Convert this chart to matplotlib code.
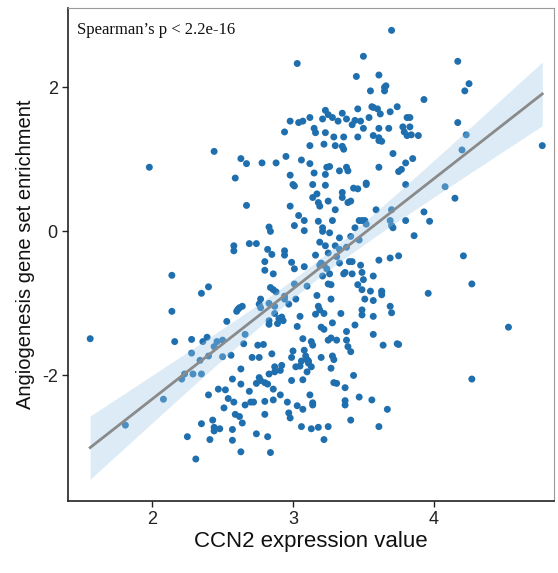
import numpy as np
import matplotlib
matplotlib.use('Agg')
import matplotlib.pyplot as plt

# values (x = CCN2 expression, y = enrichment)
ccn2 = [1.56, 1.81, 1.98, 2.08, 2.14, 2.14, 2.16, 2.21, 2.23, 2.25, 2.28, 2.28, 2.29, 2.31, 2.35, 2.34,
        2.35, 2.36, 2.35, 2.40, 2.40, 2.39, 2.40, 2.41, 2.43, 2.44, 2.44, 2.44, 2.44, 2.46, 2.47, 2.48,
        2.50, 2.51, 2.52, 2.53, 2.50, 2.54, 2.56, 2.57, 2.57, 2.57, 2.58, 2.58, 2.58, 2.59, 2.59, 2.60,
        2.62, 2.62, 2.63, 2.63, 2.63, 2.63, 2.64, 2.64, 2.65, 2.66, 2.66, 2.67, 2.67, 2.69, 2.69, 2.70,
        2.72, 2.71, 2.74, 2.74, 2.74, 2.75, 2.76, 2.76, 2.76, 2.77, 2.77, 2.77, 2.78, 2.79, 2.80, 2.80,
        2.80, 2.80, 2.82, 2.82, 2.82, 2.83, 2.83, 2.83, 2.83, 2.83, 2.84, 2.84, 2.84, 2.85, 2.85, 2.86,
        2.86, 2.86, 2.86, 2.87, 2.87, 2.87, 2.88, 2.88, 2.89, 2.90, 2.91, 2.92, 2.92, 2.93, 2.94, 2.94,
        2.94, 2.94, 2.94, 2.95, 2.96, 2.97, 2.97, 2.98, 2.98, 2.98, 2.98, 2.99, 2.99, 2.99, 3.00, 3.01,
        3.01, 3.01, 3.01, 3.02, 3.02, 3.03, 3.03, 3.03, 3.04, 3.04, 3.05, 3.05, 3.06, 3.06, 3.07, 3.07,
        3.07, 3.07, 3.08, 3.08, 3.08, 3.08, 3.09, 3.10, 3.10, 3.10, 3.11, 3.11, 3.12, 3.12, 3.12, 3.13,
        3.12, 3.13, 3.13, 3.14, 3.14, 3.14, 3.14, 3.14, 3.15, 3.15, 3.16, 3.16, 3.16, 3.17, 3.17, 3.18,
        3.18, 3.18, 3.18, 3.19, 3.19, 3.19, 3.19, 3.20, 3.20, 3.20, 3.21, 3.21, 3.21, 3.21, 3.22, 3.22,
        3.22, 3.22, 3.22, 3.23, 3.23, 3.23, 3.23, 3.23, 3.24, 3.24, 3.25, 3.25, 3.25, 3.25, 3.25, 3.25,
        3.26, 3.26, 3.26, 3.27, 3.27, 3.27, 3.27, 3.28, 3.28, 3.28, 3.28, 3.29, 3.29, 3.29, 3.30, 3.30,
        3.30, 3.31, 3.31, 3.31, 3.32, 3.33, 3.33, 3.33, 3.33, 3.34, 3.35, 3.35, 3.35, 3.35, 3.36, 3.36,
        3.36, 3.37, 3.37, 3.37, 3.37, 3.38, 3.38, 3.38, 3.38, 3.38, 3.39, 3.39, 3.39, 3.40, 3.41, 3.41,
        3.41, 3.41, 3.42, 3.42, 3.42, 3.43, 3.43, 3.44, 3.44, 3.44, 3.45, 3.46, 3.46, 3.46, 3.46, 3.47,
        3.47, 3.47, 3.48, 3.48, 3.49, 3.49, 3.49, 3.49, 3.49, 3.50, 3.50, 3.50, 3.51, 3.51, 3.52, 3.52,
        3.52, 3.54, 3.55, 3.55, 3.56, 3.56, 3.57, 3.57, 3.57, 3.57, 3.57, 3.57, 3.59, 3.60, 3.61, 3.61,
        3.61, 3.61, 3.61, 3.61, 3.61, 3.62, 3.63, 3.63, 3.63, 3.63, 3.64, 3.65, 3.65, 3.66, 3.67, 3.68,
        3.69, 3.69, 3.69, 3.69, 3.70, 3.70, 3.70, 3.70, 3.71, 3.71, 3.74, 3.74, 3.75, 3.75, 3.75, 3.77,
        3.78, 3.79, 3.80, 3.80, 3.80, 3.81, 3.81, 3.83, 3.83, 3.84, 3.85, 3.86, 3.89, 3.93, 3.93, 3.96,
        3.97, 4.08, 4.15, 4.17, 4.17, 4.20, 4.21, 4.22, 4.23, 4.25, 4.27, 4.27, 4.53, 4.77,
        2.61, 2.87, 3.06, 2.80, 3.00, 2.91]
enrichment = [-1.49, -2.69, 0.89, -2.33, -0.61, -1.11, -1.53, -2.05, -1.98, -2.85, -1.50, -1.69, -1.98, -3.16, -1.98, -1.79,
              -0.86, -1.53, -2.67, -0.77, -2.27, -1.47, -1.73, -2.89, -2.62, -2.72, -2.77, 1.11, -1.60, -1.53, -2.19, -2.74,
              -1.74, -2.45, -2.20, -1.25, -1.51, -2.32, -1.72, -2.90, -2.75, -2.05, -2.37, -0.20, -0.27, 0.74, -2.54, -1.11,
              -1.06, -2.57, -2.12, -1.91, 1.01, -3.06, -1.04, -2.66, -1.56, -1.43, -2.41, 0.94, 0.36, -0.17, -2.22, -2.37,
              -2.37, -1.75, -0.17, -2.11, -2.81, -1.58, -1.01, -1.75, -2.03, -2.07, -1.06, -0.94, 0.95, -1.57, -2.54, -0.54,
              -2.10, -0.42, -0.25, -2.12, -2.85, -1.00, 0.06, -1.98, -1.29, -1.24, -3.07, 0.00, -0.78, -0.32, -1.70, -2.34,
              -2.19, -0.81, -0.59, -1.14, -1.04, -1.88, -0.84, 0.95, -1.28, -1.21, -1.93, -1.19, -1.86, -1.24, -0.94, -0.27,
              -0.33, 1.38, -0.90, 1.04, -2.37, -1.01, -2.52, 0.35, -2.59, 1.53, 0.78, -1.75, -0.43, -2.07, 0.65, 0.63,
              0.08, -0.52, -0.73, -0.94, -1.88, -2.42, -1.32, 2.33, 0.22, 1.51, -1.87, -1.18, 0.99, -2.71, -2.06, -1.49,
              -2.47, 1.53, -0.49, -1.65, 0.15, 0.01, -1.73, -1.95, -1.78, -0.76, -1.83, -1.80, 1.19, -2.27, 1.58, -1.88,
              0.94, -1.53, -2.74, -2.41, 0.47, 0.65, -2.38, -1.58, 0.81, 1.43, -1.15, -0.33, 1.37, -0.89, 0.52, 0.40,
              0.14, -2.72, -1.04, -0.47, -0.15, -1.09, 0.35, -1.33, -1.75, -0.44, 1.56, 0.05, 0.00, -0.62, 1.21, -1.36,
              -2.89, -1.14, -0.47, 1.68, 0.79, -0.20, 1.37, 0.64, 0.89, -0.52, -1.51, 0.42, 1.62, -0.73, -2.71, -0.30,
              -0.02, 0.90, -0.59, -0.74, -1.90, -1.48, -0.94, -1.73, 0.15, -1.27, 1.58, -1.78, -2.10, 1.31, 0.30, -0.20,
              1.19, -2.11, -0.35, -1.51, 1.53, -0.09, -0.44, -0.25, 0.84, -1.14, 0.54, 0.47, 1.64, 1.18, -0.59, 1.31,
              1.14, -2.35, -2.41, -2.17, -0.57, -1.39, 0.89, 1.56, -1.51, -0.22, 0.40, -1.60, 0.84, -0.42, -2.62, -0.07,
              -1.67, 0.42, 1.48, -0.59, -0.42, -2.00, 0.60, -1.30, 1.54, 0.05, 2.15, 0.59, 1.70, 1.31, -0.74, -2.30,
              -0.12, 0.15, 1.53, -0.47, -0.57, -0.81, -1.09, -1.16, 0.15, 1.43, 2.43, -0.67, -0.94, 0.15, 0.10, 0.67,
              0.65, 1.58, -0.83, 1.95, -2.34, 1.73, -0.96, 1.72, -0.62, -1.43, 1.33, -1.18, 0.30, 1.70, -2.71, -0.40,
              1.30, 1.43, 0.89, 1.26, 2.17, 1.63, -0.88, -0.84, 1.25, -0.83, -1.58, 1.95, 2.00, 2.02, -2.47, 1.43,
              -1.04, 1.66, -0.37, 0.15, 2.79, -1.13, 0.30, 0.08, 1.08, 0.05, 1.73, -1.56, 0.83, -0.34, -1.57, 0.86,
              1.45, 1.38, 0.95, 0.65, 0.15, 1.58, 1.33, 1.58, 1.45, 1.34, 1.01, -0.06, 1.33, 1.83, 0.27, -0.86,
              0.14, 0.62, 0.46, 2.36, 1.51, 1.13, -0.34, 1.95, 1.34, 2.05, -0.73, -2.05, -1.33, 1.19,
              -1.08, -1.95, -1.80, -2.36, -1.66, -2.27]

x = np.array(ccn2)
y = np.array(enrichment)

# linear fit with 95% confidence band (like geom_smooth(method='lm'))
n = len(x)
slope, intercept = np.polyfit(x, y, 1)
resid = y - (intercept + slope * x)
s = np.sqrt(np.sum(resid ** 2) / (n - 2))
xs = np.linspace(x.min(), x.max(), 100)
ys = intercept + slope * xs
se = s * np.sqrt(1.0 / n + (xs - x.mean()) ** 2 / np.sum((x - x.mean()) ** 2))
ci = 1.966 * se

fig = plt.figure(figsize=(5.58, 5.73), dpi=100)
ax = fig.add_axes([0.122, 0.126, 0.871, 0.86])

ax.scatter(x, y, s=25, color='#1f6fae', edgecolors='none', zorder=2)
ax.fill_between(xs, ys - ci, ys + ci, color='#9cc8e8', alpha=0.35, linewidth=0, zorder=3)
ax.plot(xs, ys, color='#8a8a8a', linewidth=2, zorder=4)

ax.set_xlim(1.403, 4.854)
ax.set_ylim(-3.74, 3.10)
ax.set_xticks([2, 3, 4])
ax.set_yticks([-2, 0, 2])
ax.set_yticklabels(['-2', '0', '2'])

for side in ['top', 'right']:
    ax.spines[side].set_color('#9a9a9a')
    ax.spines[side].set_linewidth(0.8)
for side in ['left', 'bottom']:
    ax.spines[side].set_color('#222222')
    ax.spines[side].set_linewidth(1.2)

ax.tick_params(direction='out', length=4, width=1, color='#222222',
               labelsize=13, labelcolor='#222222')
for lab in ax.get_xticklabels() + ax.get_yticklabels():
    lab.set_family('Liberation Sans')

ax.set_xlabel('CCN2 expression value', fontsize=16, family='Liberation Sans', color='#111111', labelpad=2)
ax.set_ylabel('Angiogenesis gene set enrichment', fontsize=14.5, family='Liberation Sans', color='#111111', labelpad=5)

ax.text(0.018, 0.955, 'Spearman\u2019s p < 2.2e-16', transform=ax.transAxes,
        fontsize=12, family='Liberation Serif', color='#111111', va='center', ha='left')

fig.savefig('out.png', dpi=100)
